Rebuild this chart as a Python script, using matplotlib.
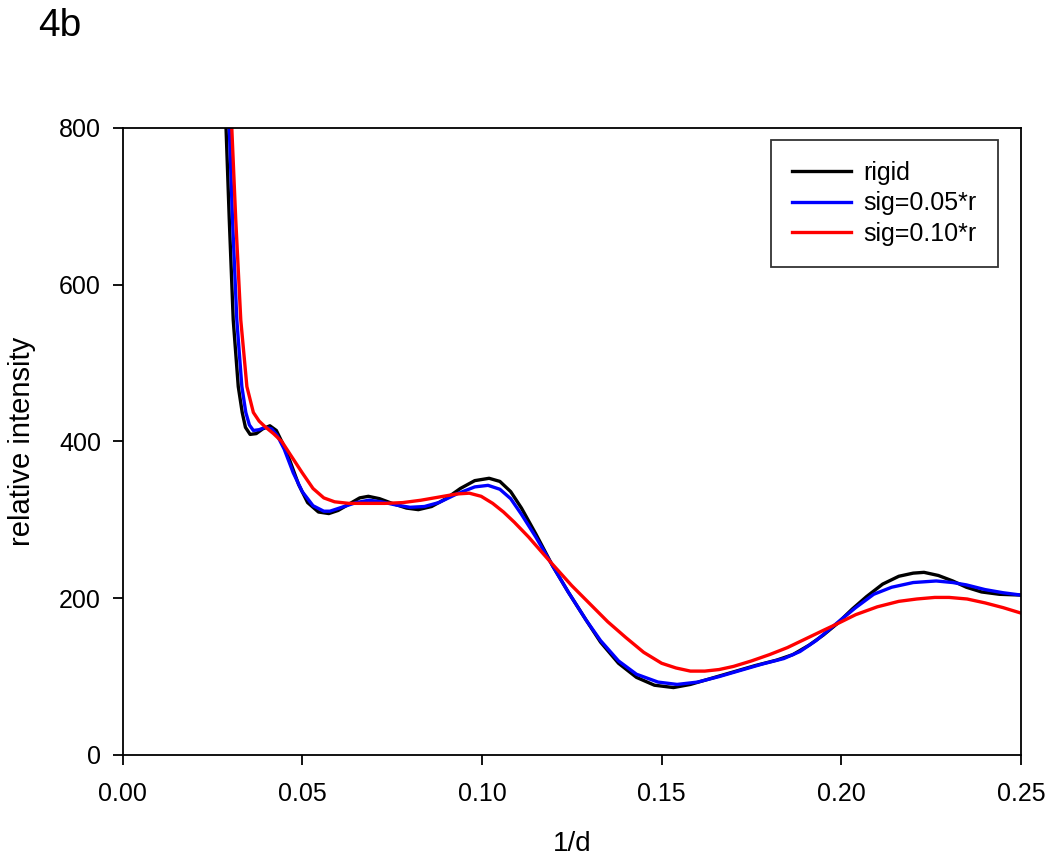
import matplotlib
matplotlib.use("Agg")
import matplotlib.pyplot as plt

plt.rcParams['font.family'] = ['Liberation Sans', 'DejaVu Sans']

# rigid
x_rigid = [0.0281, 0.0288, 0.0297, 0.0308, 0.0322, 0.0333, 0.0342, 0.0355, 0.0372, 0.0390,
           0.0410, 0.0428, 0.0445, 0.0466, 0.0490, 0.0515, 0.0545, 0.0574, 0.0600, 0.0630,
           0.0660, 0.0684, 0.0715, 0.0750, 0.0790, 0.0823, 0.0860, 0.0900, 0.0940, 0.0980,
           0.1020, 0.1050, 0.1080, 0.1110, 0.1150, 0.1197, 0.1240, 0.1290, 0.1330, 0.1380,
           0.1430, 0.1480, 0.1533, 0.1580, 0.1640, 0.1700, 0.1760, 0.1820, 0.1865, 0.1910,
           0.1950, 0.1987, 0.2030, 0.2070, 0.2115, 0.2160, 0.2200, 0.2230, 0.2270, 0.2310,
           0.2348, 0.2390, 0.2440, 0.2500]
y_rigid = [1000, 800, 683, 555, 470, 437, 418, 409, 410, 416,
           420, 414, 398, 375, 345, 322, 310, 308, 312, 320,
           328, 330, 327, 321, 315, 313, 317, 327, 340, 350,
           353, 349, 336, 315, 282, 241, 208, 172, 144, 117,
           99, 89, 86, 90, 98, 106, 114, 121, 128, 140,
           153, 167, 186, 202, 218, 228, 232, 233, 229, 222,
           214, 208, 205, 204]

# sig=0.05*r
x_s05 = [0.0289, 0.0297, 0.0306, 0.0318, 0.0332, 0.0343, 0.0353, 0.0364, 0.0380, 0.0397,
         0.0415, 0.0430, 0.0450, 0.0475, 0.0500, 0.0530, 0.0560, 0.0577, 0.0610, 0.0650,
         0.0685, 0.0720, 0.0760, 0.0800, 0.0840, 0.0880, 0.0930, 0.0980, 0.1017, 0.1050,
         0.1080, 0.1110, 0.1150, 0.1197, 0.1240, 0.1290, 0.1330, 0.1380, 0.1430, 0.1490,
         0.1543, 0.1600, 0.1660, 0.1720, 0.1780, 0.1840, 0.1885, 0.1930, 0.1987, 0.2040,
         0.2090, 0.2140, 0.2200, 0.2264, 0.2310, 0.2348, 0.2400, 0.2450, 0.2500]
y_s05 = [1000, 800, 683, 555, 470, 437, 421, 414, 415, 418,
         416, 408, 390, 360, 336, 318, 311, 311, 316, 322,
         325, 323, 319, 316, 317, 322, 333, 342, 344, 339,
         327, 307, 278, 241, 208, 172, 146, 120, 103, 93,
         90, 93, 100, 108, 116, 123, 132, 146, 168, 188,
         205, 214, 220, 222, 220, 217, 211, 207, 204]

# sig=0.10*r
x_s10 = [0.0295, 0.0304, 0.0315, 0.0329, 0.0346, 0.0364, 0.0380, 0.0396, 0.0420, 0.0443,
         0.0470, 0.0500, 0.0530, 0.0560, 0.0590, 0.0630, 0.0680, 0.0730, 0.0780, 0.0830,
         0.0880, 0.0930, 0.0965, 0.0998, 0.1030, 0.1060, 0.1090, 0.1130, 0.1170, 0.1197,
         0.1250, 0.1300, 0.1350, 0.1400, 0.1450, 0.1500, 0.1540, 0.1580, 0.1620, 0.1660,
         0.1700, 0.1750, 0.1800, 0.1850, 0.1900, 0.1950, 0.1987, 0.2040, 0.2100, 0.2160,
         0.2210, 0.2260, 0.2300, 0.2350, 0.2400, 0.2450, 0.2500]
y_s10 = [1000, 800, 683, 555, 470, 437, 426, 419, 410, 400,
         381, 360, 340, 328, 323, 321, 321, 321, 322, 325,
         329, 333, 334, 330, 321, 310, 297, 278, 257, 243,
         216, 193, 170, 150, 131, 117, 111, 107, 107, 109,
         113, 120, 128, 137, 148, 159, 167, 179, 189, 196,
         199, 201, 201, 199, 194, 188, 181]

fig = plt.figure(figsize=(10.5, 8.65), dpi=100)
ax = fig.add_axes([0.1167, 0.1272, 0.8557, 0.7249])

ax.plot(x_rigid, y_rigid, color='black', lw=2.4, label='rigid')
ax.plot(x_s05, y_s05, color='#0000ff', lw=2.4, label='sig=0.05*r')
ax.plot(x_s10, y_s10, color='#ff0000', lw=2.4, label='sig=0.10*r')

ax.set_xlim(0, 0.25)
ax.set_ylim(0, 800)
ax.set_xticks([0.00, 0.05, 0.10, 0.15, 0.20, 0.25])
ax.set_xticklabels(['0.00', '0.05', '0.10', '0.15', '0.20', '0.25'])
ax.set_yticks([0, 200, 400, 600, 800])
ax.tick_params(direction='out', length=7.5, width=1.3, labelsize=18,
               top=False, right=False)
ax.tick_params(axis='x', pad=12)
ax.tick_params(axis='y', pad=8)
for s in ax.spines.values():
    s.set_linewidth(1.3)

ax.set_xlabel('1/d', fontsize=20)
ax.set_ylabel('relative intensity', fontsize=21)
ax.xaxis.set_label_coords(0.5, -0.122)
ax.yaxis.set_label_coords(-0.096, 0.5)

leg = ax.legend(loc='upper right', bbox_to_anchor=(0.9745, 0.981), borderaxespad=0,
                fontsize=18, frameon=True, fancybox=False, edgecolor='black',
                handlelength=2.35, borderpad=0.85, labelspacing=0.25, handletextpad=0.5)
leg.get_frame().set_linewidth(1.3)

fig.text(0.036, 0.958, '4b', fontsize=28, va='baseline')

fig.savefig('out.png', dpi=100)
